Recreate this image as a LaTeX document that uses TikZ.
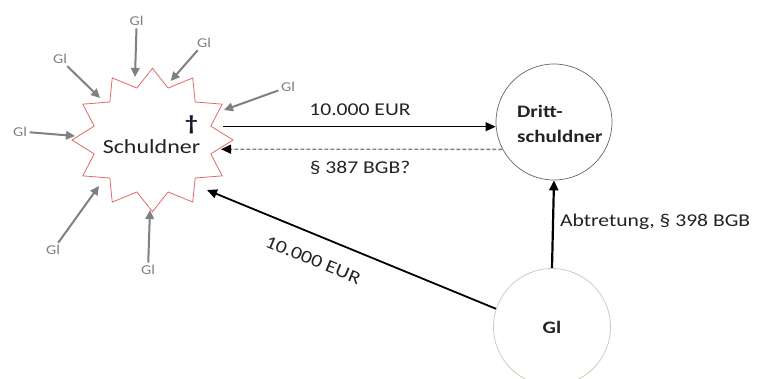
\documentclass[tikz,border=0pt]{standalone}
\usepackage{fontspec}
\setmainfont{Carlito}[FakeStretch=1.2]
\usetikzlibrary{arrows.meta}
\definecolor{glgray}{RGB}{128,128,128}
\definecolor{starred}{RGB}{225,105,105}
\definecolor{ringgreen}{RGB}{196,210,184}
\definecolor{ringgray}{RGB}{100,100,100}
\definecolor{txt}{RGB}{35,35,35}
\begin{document}
\begin{tikzpicture}[x=1pt,y=-1pt,
  glarrow/.style={draw=glgray, line width=2pt, -{Triangle[length=9pt,width=8.5pt]}, shorten <=1pt},
  gllabel/.style={text=glgray, font=\fontsize{13.5}{13.5}\selectfont, inner sep=1.5pt},
  mainarrow/.style={draw=black, -{Triangle[length=10pt,width=9pt]}},
  lbl/.style={text=txt, font=\fontsize{18}{18}\selectfont, inner sep=1pt}]
\useasboundingbox (0,0) rectangle (757,378);

% twelve-pointed star around the debtor
\draw[starred, line width=0.8pt, fill=white]
  plot[samples at={0,15,...,345}, variable=\t]
  ({152.5+80.5*cos(\t)*ifthenelse(mod(\t,30)==0,1,0.75)},
   {140-71.7*sin(\t)*ifthenelse(mod(\t,30)==0,1,0.75)}) -- cycle;
\node[text=txt, font=\fontsize{20}{20}\selectfont] (sch) at (151.5,147) {Schuldner};
\node[text={rgb,255:red,20;green,25;blue,50}, font=\bfseries\fontsize{21}{21}\selectfont] (cross) at (191.5,125) {†};

% third-party debtor and creditor
\node[circle, draw=ringgray, line width=0.7pt, minimum size=116pt] (dritt) at (554,122) {};
\node[anchor=west, align=left, text=txt, font=\bfseries\fontsize{17.5}{25}\selectfont, inner sep=0pt] (dtext) at (517,124) {Dritt-\\schuldner};
\node[circle, draw=ringgreen, line width=0.8pt, minimum size=117pt, text=txt, font=\bfseries\fontsize{17.5}{18}\selectfont] (gl) at (552,327) {Gl};

% contact points on the star
\coordinate (s1) at (223,126.7);
\coordinate (s2) at (221,149.2);
\coordinate (s3) at (207,190);

\draw[mainarrow, line width=1pt] (s1) -- (s1 -| dritt.west);
\node[lbl] (l1) at (360,110) {10.000 EUR};
\draw[draw=glgray, line width=1.3pt, dash pattern=on 4pt off 2pt, -{Triangle[length=10pt,width=9pt,color=black]}] (dritt.208) -- (s2);
\node[lbl] (l2) at (360,168) {§ 387 BGB?};
\draw[mainarrow, line width=1.8pt] (gl.162) -- (s3);
\node[lbl, rotate=-22.4] (l3) at (313,260) {10.000 EUR};
\draw[mainarrow, line width=2.2pt] (gl.north) -- (dritt.south);
\node[lbl, anchor=west] (l4) at (559,222) {Abtretung, § 398 BGB};

% other creditors pressing on the debtor
\node[gllabel] (g1) at (136.7,21) {Gl};
\node[gllabel] (g2) at (204,43) {Gl};
\node[gllabel] (g3) at (60,59) {Gl};
\node[gllabel] (g4) at (288,87) {Gl};
\node[gllabel] (g5) at (20,131.5) {Gl};
\node[gllabel] (g6) at (53,250) {Gl};
\node[gllabel] (g7) at (148,270) {Gl};
\coordinate (t1) at (135,77);
\coordinate (t2) at (170.7,81);
\coordinate (t3) at (100,98);
\coordinate (t4) at (224,110);
\coordinate (t5) at (75,136);
\coordinate (t6) at (99,186);
\coordinate (t7) at (150,210);
\foreach \i in {1,...,7} \draw[glarrow] (g\i) -- (t\i);
\end{tikzpicture}
\end{document}
